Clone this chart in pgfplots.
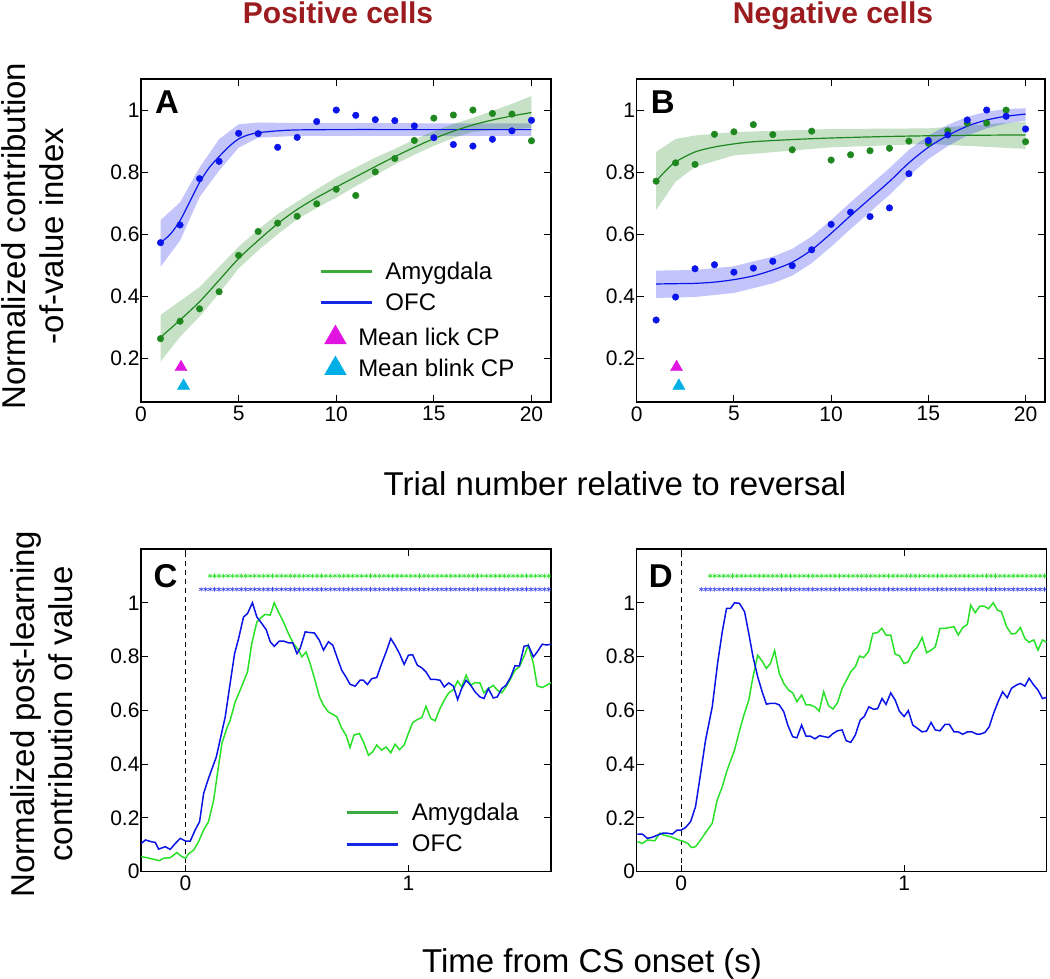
\documentclass[border=0pt]{standalone}
\usepackage{fontspec}
\setmainfont{Liberation Sans}
\usepackage{pgfplots}
\usepackage{pgfplotstable}
\pgfplotsset{compat=1.18}

\definecolor{amyA}{RGB}{30,135,30}
\definecolor{ofcA}{RGB}{10,20,235}
\definecolor{amyC}{RGB}{40,225,40}
\definecolor{ofcC}{RGB}{10,20,230}
\definecolor{legG}{RGB}{60,170,60}
\definecolor{legB}{RGB}{20,40,230}
\definecolor{titlered}{RGB}{155,27,30}
\definecolor{lickM}{RGB}{225,20,225}
\definecolor{blinkC}{RGB}{0,175,230}

% ---------- panel A data ----------
\pgfplotstableread{
x y
1 0.573
2 0.630
3 0.779
4 0.835
5 0.925
6 0.924
7 0.880
8 0.912
9 0.963
10 1.000
11 0.983
12 0.969
13 0.966
14 0.949
15 0.911
16 0.889
17 0.884
18 0.906
19 0.933
20 0.967
}\ofcdotsA
\pgfplotstableread{
x y
1 0.264
2 0.320
3 0.360
4 0.415
5 0.532
6 0.609
7 0.636
8 0.658
9 0.698
10 0.745
11 0.725
12 0.801
13 0.844
14 0.902
15 0.974
16 0.984
17 1.000
18 0.989
19 0.987
20 0.901
}\amydotsA
% ---------- panel B data ----------
\pgfplotstableread{
x y
1 0.771
2 0.830
3 0.825
4 0.922
5 0.930
6 0.953
7 0.921
8 0.872
9 0.932
10 0.839
11 0.856
12 0.869
13 0.877
14 0.900
15 0.893
16 0.933
17 0.958
18 0.958
19 1.000
20 0.898
}\amydotsB
\pgfplotstableread{
x y
1 0.324
2 0.398
3 0.489
4 0.502
5 0.478
6 0.491
7 0.513
8 0.499
9 0.550
10 0.632
11 0.671
12 0.657
13 0.685
14 0.795
15 0.902
16 0.920
17 0.968
18 1.000
19 0.980
20 0.939
}\ofcdotsB
% ---------- significance rows ----------
\pgfplotstableread{
x g b
0.07 1.10 1.05
0.09 1.10 1.05
0.11 1.10 1.05
0.13 1.10 1.05
0.15 1.10 1.05
0.17 1.10 1.05
0.19 1.10 1.05
0.21 1.10 1.05
0.23 1.10 1.05
0.25 1.10 1.05
0.27 1.10 1.05
0.29 1.10 1.05
0.31 1.10 1.05
0.33 1.10 1.05
0.35 1.10 1.05
0.37 1.10 1.05
0.39 1.10 1.05
0.41 1.10 1.05
0.43 1.10 1.05
0.45 1.10 1.05
0.47 1.10 1.05
0.49 1.10 1.05
0.51 1.10 1.05
0.53 1.10 1.05
0.55 1.10 1.05
0.57 1.10 1.05
0.59 1.10 1.05
0.61 1.10 1.05
0.63 1.10 1.05
0.65 1.10 1.05
0.67 1.10 1.05
0.69 1.10 1.05
0.71 1.10 1.05
0.73 1.10 1.05
0.75 1.10 1.05
0.77 1.10 1.05
0.79 1.10 1.05
0.81 1.10 1.05
0.83 1.10 1.05
0.85 1.10 1.05
0.87 1.10 1.05
0.89 1.10 1.05
0.91 1.10 1.05
0.93 1.10 1.05
0.95 1.10 1.05
0.97 1.10 1.05
0.99 1.10 1.05
1.01 1.10 1.05
1.03 1.10 1.05
1.05 1.10 1.05
1.07 1.10 1.05
1.09 1.10 1.05
1.11 1.10 1.05
1.13 1.10 1.05
1.15 1.10 1.05
1.17 1.10 1.05
1.19 1.10 1.05
1.21 1.10 1.05
1.23 1.10 1.05
1.25 1.10 1.05
1.27 1.10 1.05
1.29 1.10 1.05
1.31 1.10 1.05
1.33 1.10 1.05
1.35 1.10 1.05
1.37 1.10 1.05
1.39 1.10 1.05
1.41 1.10 1.05
1.43 1.10 1.05
1.45 1.10 1.05
1.47 1.10 1.05
1.49 1.10 1.05
1.51 1.10 1.05
1.53 1.10 1.05
1.55 1.10 1.05
1.57 1.10 1.05
1.59 1.10 1.05
1.61 1.10 1.05
1.63 1.10 1.05
}\sigrows
% ---------- panel C data ----------
\pgfplotstableread{
x y
-0.199 0.105
-0.180 0.118
-0.151 0.111
-0.136 0.109
-0.121 0.084
-0.091 0.093
-0.069 0.083
-0.046 0.105
-0.024 0.124
0.000 0.114
0.021 0.114
0.043 0.155
0.063 0.186
0.081 0.291
0.103 0.347
0.138 0.427
0.178 0.576
0.200 0.700
0.220 0.811
0.238 0.867
0.260 0.947
0.278 0.960
0.300 1.000
0.320 0.947
0.342 0.923
0.362 0.900
0.380 0.855
0.398 0.838
0.420 0.857
0.442 0.857
0.462 0.851
0.481 0.851
0.500 0.811
0.514 0.830
0.537 0.892
0.559 0.889
0.578 0.888
0.600 0.861
0.619 0.824
0.641 0.855
0.661 0.842
0.679 0.799
0.701 0.749
0.720 0.724
0.738 0.697
0.761 0.690
0.783 0.712
0.798 0.712
0.816 0.696
0.836 0.718
0.858 0.722
0.880 0.774
0.900 0.817
0.921 0.867
0.940 0.842
0.960 0.811
0.981 0.771
1.000 0.805
1.019 0.807
1.040 0.768
1.060 0.758
1.079 0.743
1.100 0.715
1.120 0.715
1.142 0.712
1.161 0.687
1.181 0.702
1.202 0.690
1.221 0.640
1.239 0.681
1.259 0.712
1.280 0.693
1.299 0.669
1.321 0.650
1.339 0.644
1.359 0.681
1.381 0.646
1.399 0.650
1.419 0.681
1.438 0.693
1.459 0.724
1.478 0.765
1.498 0.765
1.519 0.838
1.538 0.842
1.561 0.799
1.578 0.817
1.601 0.846
1.620 0.843
1.640 0.846
}\ofcC
\pgfplotstableread{
x y
-0.199 0.056
-0.173 0.052
-0.143 0.046
-0.117 0.041
-0.099 0.050
-0.069 0.052
-0.039 0.071
-0.016 0.056
0.000 0.050
0.013 0.066
0.036 0.080
0.058 0.111
0.081 0.155
0.103 0.186
0.126 0.266
0.143 0.365
0.163 0.477
0.185 0.533
0.200 0.563
0.223 0.632
0.245 0.675
0.260 0.706
0.278 0.743
0.297 0.848
0.320 0.929
0.342 0.947
0.357 0.957
0.380 0.954
0.398 1.000
0.417 0.966
0.439 0.929
0.462 0.885
0.484 0.848
0.507 0.824
0.522 0.799
0.541 0.817
0.559 0.774
0.581 0.712
0.601 0.650
0.619 0.619
0.641 0.594
0.661 0.585
0.679 0.576
0.701 0.533
0.720 0.508
0.738 0.462
0.756 0.508
0.780 0.514
0.798 0.483
0.821 0.433
0.840 0.446
0.858 0.471
0.880 0.452
0.900 0.464
0.921 0.442
0.940 0.474
0.960 0.454
0.981 0.471
1.000 0.514
1.019 0.554
1.040 0.566
1.060 0.573
1.079 0.615
1.100 0.570
1.120 0.561
1.142 0.607
1.161 0.638
1.181 0.665
1.202 0.677
1.221 0.709
1.239 0.687
1.259 0.731
1.280 0.693
1.299 0.703
1.321 0.702
1.339 0.665
1.359 0.681
1.381 0.693
1.399 0.675
1.419 0.665
1.438 0.687
1.459 0.718
1.478 0.749
1.498 0.762
1.519 0.801
1.538 0.842
1.561 0.774
1.578 0.691
1.601 0.685
1.620 0.693
1.640 0.703
}\amyC
% ---------- panel D data ----------
\pgfplotstableread{
x y
-0.197 0.140
-0.175 0.140
-0.152 0.124
-0.130 0.128
-0.107 0.136
-0.085 0.143
-0.063 0.143
-0.040 0.140
-0.018 0.155
0.000 0.155
0.019 0.164
0.042 0.186
0.064 0.242
0.087 0.366
0.109 0.489
0.139 0.613
0.164 0.781
0.184 0.892
0.203 0.979
0.221 0.979
0.239 1.000
0.261 0.998
0.284 0.967
0.303 0.886
0.322 0.799
0.343 0.725
0.363 0.669
0.382 0.623
0.400 0.626
0.422 0.626
0.440 0.620
0.460 0.595
0.478 0.545
0.500 0.502
0.519 0.498
0.540 0.545
0.560 0.504
0.579 0.504
0.600 0.494
0.621 0.506
0.642 0.502
0.661 0.499
0.681 0.514
0.701 0.524
0.722 0.527
0.740 0.487
0.761 0.481
0.781 0.508
0.803 0.564
0.821 0.577
0.842 0.613
0.863 0.604
0.881 0.606
0.901 0.644
0.919 0.622
0.940 0.665
0.960 0.638
0.979 0.597
1.000 0.577
1.019 0.599
1.039 0.545
1.060 0.533
1.081 0.520
1.101 0.523
1.121 0.555
1.140 0.527
1.161 0.524
1.184 0.548
1.203 0.548
1.224 0.520
1.243 0.520
1.263 0.511
1.284 0.520
1.304 0.520
1.325 0.512
1.343 0.512
1.363 0.518
1.382 0.539
1.403 0.592
1.422 0.632
1.442 0.669
1.463 0.647
1.482 0.682
1.504 0.694
1.522 0.700
1.542 0.690
1.561 0.719
1.582 0.694
1.601 0.675
1.621 0.644
1.639 0.648
}\ofcD
\pgfplotstableread{
x y
-0.197 0.112
-0.175 0.105
-0.152 0.118
-0.119 0.115
-0.096 0.143
-0.078 0.136
-0.048 0.130
-0.018 0.120
0.012 0.112
0.030 0.105
0.045 0.090
0.064 0.093
0.087 0.118
0.109 0.145
0.139 0.180
0.161 0.266
0.184 0.316
0.206 0.378
0.239 0.452
0.258 0.514
0.281 0.582
0.303 0.638
0.322 0.725
0.343 0.805
0.363 0.783
0.382 0.756
0.400 0.774
0.419 0.822
0.440 0.737
0.460 0.700
0.482 0.675
0.500 0.665
0.519 0.632
0.540 0.657
0.560 0.620
0.579 0.620
0.600 0.613
0.619 0.597
0.639 0.669
0.661 0.617
0.681 0.605
0.701 0.628
0.722 0.682
0.740 0.710
0.761 0.744
0.781 0.762
0.800 0.802
0.818 0.796
0.840 0.818
0.860 0.886
0.881 0.889
0.900 0.905
0.919 0.880
0.940 0.880
0.960 0.809
0.979 0.803
1.000 0.774
1.019 0.781
1.039 0.818
1.060 0.836
1.081 0.871
1.101 0.814
1.121 0.824
1.140 0.836
1.161 0.905
1.184 0.905
1.203 0.908
1.224 0.911
1.243 0.880
1.263 0.908
1.284 0.919
1.299 0.991
1.319 0.963
1.340 0.988
1.358 0.988
1.379 0.978
1.400 1.000
1.419 0.973
1.437 0.967
1.460 0.911
1.482 0.884
1.501 0.886
1.522 0.908
1.542 0.867
1.561 0.853
1.582 0.862
1.601 0.824
1.621 0.862
1.639 0.853
}\amyD

\tikzset{letter/.style={anchor=base west, font=\bfseries\fontsize{33}{33}\selectfont}}
\pgfplotsset{
  panel/.style={
    scale only axis, anchor=south west,
    axis line style={line width=1.1pt},
    every tick/.style={black, line width=1pt},
    major tick length=7pt, tick align=inside,
    tick label style={font=\fontsize{21}{21}\selectfont},
    /pgf/number format/assume math mode=true,
    yticklabel style={xshift=2pt},
    xticklabel style={yshift=-1pt},
  },
  panelAB/.style={panel, width=410pt, height=323pt,
    xmin=0, xmax=21, ymin=0.06, ymax=1.1,
    xtick={0,5,10,15,20}, ytick={0.2,0.4,0.6,0.8,1}},
  panelCD/.style={panel, width=410pt, height=322.7pt,
    xmin=-0.2, xmax=1.64, ymin=0, ymax=1.2,
    xtick={0,1}, ytick={0,0.2,0.4,0.6,0.8,1}},
  dots/.style={only marks, mark=*, mark size=3.3pt},
  leg/.style={legend style={draw=none, fill=none, anchor=north west,
    font=\fontsize{24}{24}\selectfont, row sep=9pt,
    /tikz/every odd column/.append style={column sep=10pt}},
    legend cell align=left},
}

\begin{document}
\begin{tikzpicture}
\useasboundingbox (0pt,0pt) rectangle (1050pt,978pt);

% ================= Panel A =================
\begin{axis}[panelAB, at={(141pt,576pt)}, leg, legend style={at={(0.4275,0.447)}}]
\addplot[fill=ofcA, fill opacity=0.25, draw=none, forget plot] coordinates {
 (1,0.645)(2,0.703)(3,0.815)(4,0.906)(5,0.954)(6,0.960)(8,0.958)(20,0.957)
 (20,0.917)(8,0.917)(6,0.911)(5,0.879)(4,0.805)(3,0.72)(2,0.58)(1,0.495)} -- cycle;
\addplot[fill=amyA, fill opacity=0.25, draw=none, forget plot] coordinates {
 (1,0.34)(2,0.385)(3,0.43)(4,0.495)(5,0.56)(6,0.615)(7,0.665)(8,0.705)(9,0.745)(10,0.783)
 (11,0.815)(12,0.847)(13,0.875)(14,0.905)(15,0.932)(16,0.955)(17,0.975)(18,0.997)(19,1.02)(20,1.045)
 (20,0.943)(19,0.937)(18,0.935)(17,0.930)(16,0.910)(15,0.885)(14,0.856)(13,0.825)(12,0.79)(11,0.755)
 (10,0.718)(9,0.685)(8,0.648)(7,0.60)(6,0.548)(5,0.49)(4,0.41)(3,0.335)(2,0.27)(1,0.19)} -- cycle;
\addplot[ofcA, line width=1.2pt, smooth, forget plot] coordinates {
 (1,0.573)(1.5,0.600)(2,0.644)(2.5,0.705)(3,0.767)(3.5,0.815)(4,0.850)(4.5,0.882)(5,0.907)
 (5.5,0.920)(6,0.927)(7,0.933)(8,0.936)(10,0.937)(15,0.937)(20,0.937)};
\addplot[amyA, line width=1.2pt, smooth, forget plot] coordinates {
 (1,0.268)(2,0.324)(3,0.383)(4,0.452)(5,0.522)(6,0.580)(7,0.634)(8,0.680)(9,0.718)(10,0.752)
 (11,0.785)(12,0.818)(13,0.850)(14,0.880)(15,0.908)(16,0.932)(17,0.952)(18,0.968)(19,0.981)(20,0.992)};
\addplot[dots, ofcA, forget plot] table {\ofcdotsA};
\addplot[dots, amyA, forget plot] table {\amydotsA};
\addplot[only marks, mark=triangle*, mark size=7pt, lickM, forget plot] coordinates {(2.05,0.172)};
\addplot[only marks, mark=triangle*, mark size=7pt, blinkC, forget plot] coordinates {(2.18,0.112)};
\addlegendimage{legend image code/.code={\draw[legG, line width=3pt] (0pt,0pt) -- (51pt,0pt);}}
\addlegendentry{Amygdala}
\addlegendimage{legend image code/.code={\draw[legB, line width=3pt] (0pt,0pt) -- (51pt,0pt);}}
\addlegendentry{OFC}
\node[letter] at (rel axis cs:0.026,0.892) {A};
\end{axis}
% triangle legend overlay
\begin{axis}[panelAB, at={(141pt,576pt)}, hide axis, leg,
  legend style={at={(0.44,0.245)}, row sep=7pt}]
\addlegendimage{only marks, mark=triangle*, mark size=12.5pt, lickM}
\addlegendentry{Mean lick CP}
\addlegendimage{only marks, mark=triangle*, mark size=12.5pt, blinkC}
\addlegendentry{Mean blink CP}
\end{axis}

% ================= Panel B =================
\begin{axis}[panelAB, at={(636.7pt,576pt)}, width=408.3pt]
\addplot[fill=amyA, fill opacity=0.25, draw=none] coordinates {
 (1,0.865)(2,0.907)(3,0.918)(5,0.929)(10,0.939)(15,0.941)(20,0.963)
 (20,0.875)(15,0.891)(10,0.88)(5,0.854)(3,0.817)(2,0.769)(1,0.678)} -- cycle;
\addplot[fill=ofcA, fill opacity=0.25, draw=none] coordinates {
 (1,0.483)(3,0.485)(5,0.497)(7,0.528)(8,0.553)(9,0.593)(10,0.646)(11,0.703)(12,0.758)(13,0.813)
 (14,0.872)(15,0.918)(16,0.952)(17,0.978)(18,0.995)(19,1.003)(20,1.006)
 (20,0.966)(19,0.957)(18,0.941)(17,0.918)(16,0.884)(15,0.842)(14,0.788)(13,0.727)(12,0.672)
 (11,0.617)(10,0.56)(9,0.507)(8,0.467)(7,0.442)(5,0.411)(3,0.398)(1,0.395)} -- cycle;
\addplot[amyA, line width=1.2pt, smooth] coordinates {
 (1,0.771)(1.5,0.805)(2,0.833)(3,0.865)(4,0.881)(5,0.891)(6,0.898)(8,0.905)(10,0.910)(13,0.915)(16,0.918)(20,0.920)};
\addplot[ofcA, line width=1.2pt, smooth] coordinates {
 (1,0.44)(2,0.441)(3,0.442)(4,0.446)(5,0.454)(6,0.466)(7,0.485)(8,0.51)(9,0.55)(10,0.603)
 (11,0.66)(12,0.715)(13,0.77)(14,0.83)(15,0.88)(16,0.918)(17,0.948)(18,0.968)(19,0.98)(20,0.987)};
\addplot[dots, amyA] table {\amydotsB};
\addplot[dots, ofcA] table {\ofcdotsB};
\addplot[only marks, mark=triangle*, mark size=7pt, lickM] coordinates {(2.05,0.172)};
\addplot[only marks, mark=triangle*, mark size=7pt, blinkC] coordinates {(2.17,0.112)};
\node[letter] at (rel axis cs:0.026,0.892) {B};
\end{axis}

% ================= Panel C =================
\begin{axis}[panelCD, at={(141pt,106.3pt)}, leg, legend style={at={(0.492,0.225)}}]
\addplot[black, line width=1.2pt, dash pattern=on 5pt off 4pt, forget plot] coordinates {(0,0) (0,1.2)};
\addplot[only marks, mark=asterisk, mark size=2.4pt, amyC, line width=0.6pt, forget plot,
  restrict x to domain=0.10:1.64] table[x=x, y=g] {\sigrows};
\addplot[only marks, mark=asterisk, mark size=2.4pt, ofcC!80!white, line width=0.6pt, forget plot,
  restrict x to domain=0.06:1.64] table[x=x, y=b] {\sigrows};
\addplot[amyC, line width=1.5pt, forget plot] table {\amyC};
\addplot[ofcC, line width=1.5pt, forget plot] table {\ofcC};
\addlegendimage{legend image code/.code={\draw[legG, line width=3pt] (0pt,0pt) -- (51pt,0pt);}}
\addlegendentry{Amygdala}
\addlegendimage{legend image code/.code={\draw[legB, line width=3pt] (0pt,0pt) -- (51pt,0pt);}}
\addlegendentry{OFC}
\node[letter] at (rel axis cs:0.022,0.882) {C};
\end{axis}

% ================= Panel D =================
\begin{axis}[panelCD, at={(636.7pt,106.3pt)}]
\addplot[black, line width=1.2pt, dash pattern=on 5pt off 4pt] coordinates {(0,0) (0,1.2)};
\addplot[only marks, mark=asterisk, mark size=2.4pt, amyC, line width=0.6pt,
  restrict x to domain=0.12:1.64] table[x=x, y=g] {\sigrows};
\addplot[only marks, mark=asterisk, mark size=2.4pt, ofcC!80!white, line width=0.6pt,
  restrict x to domain=0.08:1.64] table[x=x, y=b] {\sigrows};
\addplot[amyC, line width=1.5pt] table {\amyD};
\addplot[ofcC, line width=1.5pt] table {\ofcD};
\node[letter] at (rel axis cs:0.021,0.882) {D};
\end{axis}

% ================= titles & labels =================
\node[anchor=base, text=titlered, font=\bfseries\fontsize{30}{30}\selectfont] at (338pt,954pt) {Positive cells};
\node[anchor=base, text=titlered, font=\bfseries\fontsize{30}{30}\selectfont] at (833pt,954pt) {Negative cells};
\node[anchor=base, font=\fontsize{33}{33}\selectfont] at (615pt,482pt) {Trial number relative to reversal};
\node[anchor=base, font=\fontsize{33}{33}\selectfont] at (592pt,6pt) {Time from CS onset (s)};
\node[rotate=90, align=center, font=\fontsize{33}{38}\selectfont] at (33pt,742pt) {Normalized contribution\\-of-value index};
\node[rotate=90, align=center, font=\fontsize{33}{38}\selectfont] at (42pt,264pt) {Normalized post-learning\\contribution of value};
\end{tikzpicture}
\end{document}
